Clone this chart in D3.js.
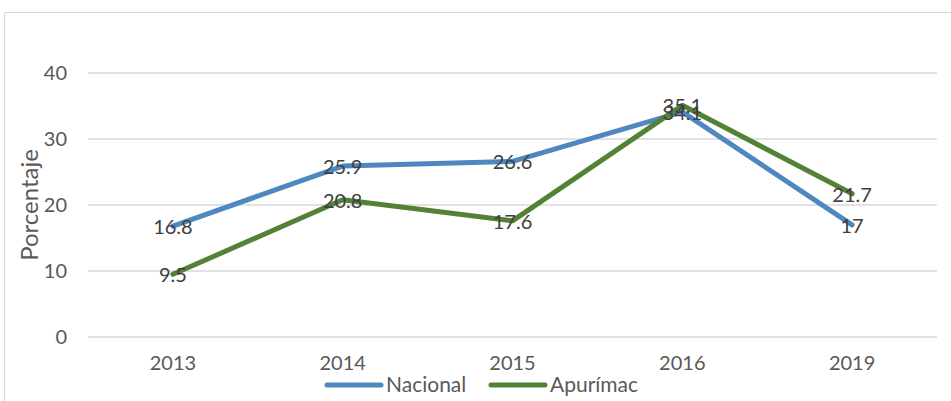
<!DOCTYPE html>
<html><head><meta charset="utf-8">
<script src="https://cdn.jsdelivr.net/npm/d3@7"></script>
<style>body{margin:0;background:#fff;} svg{display:block;font-family:Lato,"Open Sans",sans-serif;}</style>
</head><body>
<svg id="c" width="951" height="401"></svg>
<script>
const years = ["2013","2014","2015","2016","2019"];
const nacional = [16.8, 25.9, 26.6, 34.1, 17];
const apurimac = [9.5, 20.8, 17.6, 35.1, 21.7];
const yTicks = [0,10,20,30,40];
const seriesNames = ["Nacional","Apurímac"];
const colors = ["#4F87C0","#538135"];

const svg = d3.select("#c");
svg.append("path").attr("d","M4.5,401 V12.5 H951").attr("fill","none").attr("stroke","#d9d9d9").attr("stroke-width",1);

const x = d3.scaleBand().domain(years).range([88,937]);
const y = d3.scaleLinear().domain([0,40]).range([337,73]);

svg.append("g").selectAll("line").data(yTicks).join("line")
  .attr("x1",88).attr("x2",937).attr("y1",d=>y(d)).attr("y2",d=>y(d))
  .attr("stroke","#d9d9d9").attr("stroke-width",1.3);

const yAxis = d3.axisLeft(y).tickValues(yTicks).tickSize(0).tickPadding(0);
const ga = svg.append("g").attr("transform","translate(67,0)").call(yAxis);
ga.select(".domain").remove();
ga.selectAll("text").attr("font-size",20).attr("fill","#595959").attr("font-family","Lato,sans-serif");

const xAxis = d3.axisBottom(x).tickSize(0).tickPadding(0);
const gx = svg.append("g").attr("transform","translate(0,356)").call(xAxis);
gx.select(".domain").remove();
gx.selectAll("text").attr("font-size",20).attr("fill","#595959").attr("font-family","Lato,sans-serif");

svg.append("text").attr("transform","translate(38,205) rotate(-90)").attr("text-anchor","middle")
  .attr("font-size",24).attr("fill","#595959").text("Porcentaje");

const line = d3.line().x((d,i)=>x(years[i])+x.bandwidth()/2).y(d=>y(d));
const data = [nacional, apurimac];
data.forEach((s,k)=>{
  svg.append("path").datum(s).attr("d",line).attr("fill","none")
    .attr("stroke",colors[k]).attr("stroke-width",5).attr("stroke-linejoin","round").attr("stroke-linecap","round");
});
data.forEach((s,k)=>{
  svg.append("g").selectAll("text").data(s).join("text")
    .attr("x",(d,i)=>x(years[i])+x.bandwidth()/2).attr("y",d=>y(d)+8)
    .attr("text-anchor","middle").attr("font-size",20).attr("fill","#404040").text(d=>d);
});

const legX = [327, 491];
seriesNames.forEach((n,k)=>{
  svg.append("line").attr("x1",legX[k]).attr("x2",legX[k]+54).attr("y1",385).attr("y2",385)
    .attr("stroke",colors[k]).attr("stroke-width",5).attr("stroke-linecap","round");
  svg.append("text").attr("x",legX[k]+59).attr("y",392).attr("font-size",21).attr("fill","#595959").text(n);
});
</script>
</body></html>
